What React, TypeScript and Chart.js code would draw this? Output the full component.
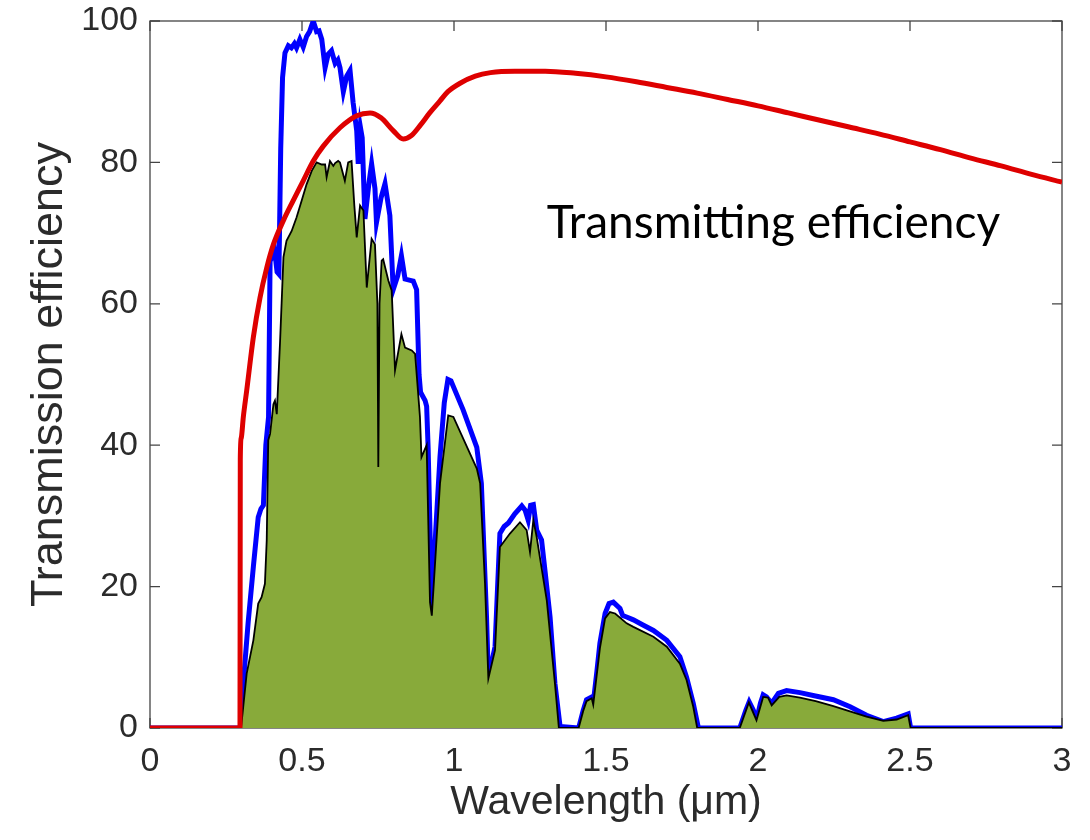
import React, { useEffect, useRef } from "react";
import { Chart, registerables } from "chart.js";

Chart.register(...registerables);

// Wavelength (µm) / value pairs
const solarWl = [0, 0.295, 0.302, 0.31, 0.323, 0.34, 0.356, 0.365, 0.373, 0.381, 0.39, 0.395, 0.41, 0.418, 0.424, 0.43, 0.436, 0.444, 0.455, 0.465, 0.475, 0.482, 0.493, 0.504, 0.515, 0.525, 0.537, 0.548, 0.556, 0.565, 0.576, 0.586, 0.597, 0.609, 0.618, 0.625, 0.636, 0.647, 0.658, 0.668, 0.68, 0.685, 0.692, 0.698, 0.707, 0.72, 0.729, 0.74, 0.745, 0.76, 0.773, 0.789, 0.8, 0.815, 0.827, 0.839, 0.866, 0.877, 0.885, 0.89, 0.905, 0.91, 0.915, 0.927, 0.94, 0.954, 0.968, 0.98, 0.99, 1.03, 1.075, 1.09, 1.107, 1.113, 1.125, 1.135, 1.151, 1.165, 1.179, 1.2, 1.223, 1.234, 1.244, 1.252, 1.261, 1.272, 1.288, 1.3, 1.316, 1.332, 1.349, 1.41, 1.425, 1.436, 1.453, 1.458, 1.47, 1.48, 1.497, 1.51, 1.524, 1.546, 1.555, 1.568, 1.59, 1.62, 1.656, 1.7, 1.743, 1.765, 1.787, 1.804, 1.94, 1.96, 1.971, 1.985, 1.995, 2.008, 2.017, 2.028, 2.045, 2.067, 2.094, 2.138, 2.193, 2.248, 2.303, 2.357, 2.412, 2.456, 2.494, 2.502, 3];
const solarVal = [0, 0, 1, 8, 15, 22.8, 29.8, 31, 31.5, 40, 44, 66, 67.5, 64.5, 64.2, 82, 92, 95.5, 96.5, 96.2, 96.8, 96.2, 97.4, 96.3, 97.8, 98.5, 100, 98.5, 98.6, 97.4, 93.4, 95.3, 95.8, 94, 94.5, 93.4, 90, 92.2, 93, 88.5, 84.5, 79.8, 85, 83.5, 72, 77, 79.8, 76.3, 71.5, 75, 77, 72.5, 62, 64, 66.8, 63.5, 63.2, 62, 50, 47.5, 46.3, 45.5, 39.5, 16.7, 28, 38.4, 46, 49.3, 49.1, 45, 39.7, 34.6, 15.7, 7.2, 9.5, 11.5, 27.5, 28.5, 29, 30.3, 31.4, 30.8, 29.4, 31.5, 31.6, 28, 26.6, 22, 15.7, 6.3, 0.2, 0, 2.5, 4, 4.4, 3.5, 8, 12, 16.2, 17.6, 17.8, 16.9, 15.9, 15.7, 15.3, 14.6, 13.8, 12.4, 10.1, 7.2, 3.5, 0, 0, 2.5, 3.7, 2.5, 1.1, 3.5, 4.7, 4.4, 3.5, 4.9, 5.3, 5.0, 4.5, 4.0, 3.0, 1.8, 0.9, 1.4, 2.0, 0, 0];

const transWl = [0, 0.298, 0.3, 0.318, 0.34, 0.356, 0.367, 0.378, 0.384, 0.389, 0.395, 0.406, 0.411, 0.417, 0.428, 0.439, 0.449, 0.466, 0.482, 0.499, 0.515, 0.532, 0.548, 0.565, 0.576, 0.581, 0.592, 0.603, 0.609, 0.619, 0.625, 0.641, 0.652, 0.663, 0.672, 0.68, 0.691, 0.702, 0.713, 0.729, 0.74, 0.748, 0.751, 0.755, 0.762, 0.767, 0.784, 0.795, 0.806, 0.827, 0.839, 0.861, 0.872, 0.888, 0.893, 0.91, 0.921, 0.927, 0.954, 0.981, 0.998, 1.075, 1.086, 1.102, 1.113, 1.135, 1.151, 1.184, 1.217, 1.239, 1.25, 1.261, 1.272, 1.305, 1.332, 1.345, 1.41, 1.425, 1.436, 1.453, 1.458, 1.48, 1.497, 1.513, 1.53, 1.568, 1.59, 1.656, 1.7, 1.743, 1.765, 1.787, 1.8, 1.94, 1.97, 1.995, 2.017, 2.033, 2.045, 2.07, 2.094, 2.138, 2.19, 2.248, 2.3, 2.357, 2.412, 2.456, 2.494, 2.502, 3];
const transVal = [0, 0, 0.2, 7.7, 12.4, 17.6, 18.5, 20.4, 26.6, 40.7, 41.6, 45.8, 46.3, 44.4, 54.8, 66.6, 68.9, 70.3, 72.2, 74.6, 76.9, 78.8, 80, 79.7, 79.7, 77.9, 80.2, 79.5, 79.9, 80.2, 80, 77.4, 80, 80.2, 74, 69.4, 73.9, 73.2, 62.3, 69.2, 68.4, 60, 36.9, 60, 66.1, 66.3, 63.3, 61.9, 50.6, 55.7, 53.8, 53.4, 52.9, 44, 38.3, 40, 17.8, 15.9, 34.6, 44.2, 44, 36.7, 34.6, 20.4, 7, 11, 25.6, 27.5, 29.1, 28, 24.9, 29.4, 27, 18.1, 6.3, 0, 0, 2.4, 3.8, 4.2, 3.3, 11.3, 15.5, 16.4, 16.2, 14.8, 14.3, 12.9, 11.5, 9.1, 6.8, 3, 0, 0, 3.6, 1.1, 4.4, 4.3, 3.2, 4.4, 4.6, 4.3, 3.8, 3.1, 2.4, 1.6, 1, 1.2, 1.8, 0, 0];

const effWl = [0, 0.296, 0.297, 0.3, 0.307, 0.318, 0.34, 0.362, 0.384, 0.406, 0.439, 0.471, 0.504, 0.537, 0.57, 0.625, 0.68, 0.724, 0.76, 0.8, 0.833, 0.86, 0.89, 0.92, 0.954, 0.98, 1.02, 1.07, 1.12, 1.2, 1.3, 1.4, 1.5, 1.6, 1.7, 1.8, 1.9, 2.0, 2.1, 2.2, 2.3, 2.4, 2.5, 2.6, 2.7, 2.8, 2.9, 3.0];
const effVal = [0, 0, 38, 41, 44, 47.7, 55.3, 60.9, 65.1, 68.4, 71.8, 74.6, 77.4, 80.2, 82.3, 84.9, 86.6, 87.0, 86.3, 84.5, 83.3, 83.8, 85.3, 87, 88.7, 90, 91.2, 92.2, 92.7, 92.9, 92.9, 92.6, 92.1, 91.4, 90.6, 89.8, 88.9, 88.0, 87.0, 86.0, 85.0, 84.0, 82.9, 81.8, 80.6, 79.5, 78.3, 77.2];

const xTickValues = [0, 0.5, 1, 1.5, 2, 2.5, 3];
const yTickValues = [0, 20, 40, 60, 80, 100];
const xTitle = "Wavelength (μm)";
const yTitle = "Transmission efficiency";
const annotationText = "Transmitting efficiency";
const annotationAt = { x: 1.305, y: 69.3 };

const AXIS_COLOR = "#2b2b2b";

const boxPlugin = {
  id: "boxAxes",
  beforeDatasetsDraw(chart: any) {
    const { ctx, chartArea: a, scales } = chart;
    ctx.save();
    ctx.strokeStyle = "#444444";
    ctx.lineWidth = 1.3;
    ctx.strokeRect(a.left, a.top, a.right - a.left, a.bottom - a.top);
    const len = 10;
    ctx.beginPath();
    xTickValues.forEach((v) => {
      const px = scales.x.getPixelForValue(v);
      ctx.moveTo(px, a.bottom);
      ctx.lineTo(px, a.bottom - len);
      ctx.moveTo(px, a.top);
      ctx.lineTo(px, a.top + len);
    });
    yTickValues.forEach((v) => {
      const py = scales.y.getPixelForValue(v);
      ctx.moveTo(a.left, py);
      ctx.lineTo(a.left + len, py);
      ctx.moveTo(a.right, py);
      ctx.lineTo(a.right - len, py);
    });
    ctx.stroke();
    ctx.restore();
  },
  afterDatasetsDraw(chart: any) {
    const { ctx, scales } = chart;
    ctx.save();
    ctx.fillStyle = "#000000";
    ctx.font = "46px Lato";
    ctx.textAlign = "left";
    ctx.textBaseline = "alphabetic";
    ctx.fillText(
      annotationText,
      scales.x.getPixelForValue(annotationAt.x),
      scales.y.getPixelForValue(annotationAt.y)
    );
    ctx.restore();
  },
};

function pts(xs: number[], ys: number[]) {
  return xs.map((x, i) => ({ x, y: ys[i] }));
}

export default function App() {
  const ref = useRef<HTMLCanvasElement | null>(null);
  useEffect(() => {
    if (!ref.current) return;
    const chart = new Chart(ref.current, {
      type: "line",
      data: {
        datasets: [
          {
            label: "Transmitting efficiency",
            data: pts(effWl, effVal),
            borderColor: "rgb(222,0,0)",
            borderWidth: 5,
            pointRadius: 0,
            fill: false,
            cubicInterpolationMode: "monotone",
            order: 0,
          },
          {
            label: "Transmitted",
            data: pts(transWl, transVal),
            borderColor: "#000000",
            borderWidth: 1.8,
            backgroundColor: "rgb(136,170,58)",
            pointRadius: 0,
            fill: "origin",
            tension: 0,
            order: 1,
          },
          {
            label: "Solar",
            data: pts(solarWl, solarVal),
            borderColor: "#0000ff",
            borderWidth: 5,
            pointRadius: 0,
            fill: false,
            tension: 0,
            order: 2,
          },
        ],
      },
      options: {
        animation: false,
        responsive: false,
        layout: { padding: { left: 0, right: 28, top: 8, bottom: 0 } },
        plugins: { legend: { display: false }, tooltip: { enabled: false } },
        scales: {
          x: {
            type: "linear",
            min: 0,
            max: 3,
            afterBuildTicks: (s: any) => {
              s.ticks = xTickValues.map((v) => ({ value: v }));
            },
            afterFit: (s: any) => {
              s.height = 112;
            },
            grid: { display: false },
            border: { display: false },
            ticks: {
              padding: 9,
              color: AXIS_COLOR,
              font: { family: "'Liberation Sans', Arial, sans-serif", size: 34, lineHeight: 1 },
              callback: (v: any) => String(v),
              maxRotation: 0,
            },
            title: {
              display: true,
              text: xTitle,
              color: AXIS_COLOR,
              font: { family: "'Liberation Sans', Arial, sans-serif", size: 41, lineHeight: 1.2 },
              padding: { top: 0, bottom: 13 },
            },
          },
          y: {
            type: "linear",
            min: 0,
            max: 100,
            afterBuildTicks: (s: any) => {
              s.ticks = yTickValues.map((v) => ({ value: v }));
            },
            afterFit: (s: any) => {
              s.width = 150;
            },
            grid: { display: false },
            border: { display: false },
            ticks: {
              padding: 4,
              color: AXIS_COLOR,
              font: { family: "'Liberation Sans', Arial, sans-serif", size: 34, lineHeight: 1 },
              callback: (v: any) => String(v),
            },
            title: {
              display: true,
              text: yTitle,
              color: AXIS_COLOR,
              font: { family: "'Liberation Sans', Arial, sans-serif", size: 45, lineHeight: 1.2 },
              padding: { top: 23, bottom: 0 },
            },
          },
        },
      },
      plugins: [boxPlugin],
    });
    return () => chart.destroy();
  }, []);
  return (
    <div style={{ position: "fixed", left: 0, top: 0, width: 1090, height: 840, background: "#fff" }}>
      <canvas ref={ref} width={1090} height={840} />
    </div>
  );
}
